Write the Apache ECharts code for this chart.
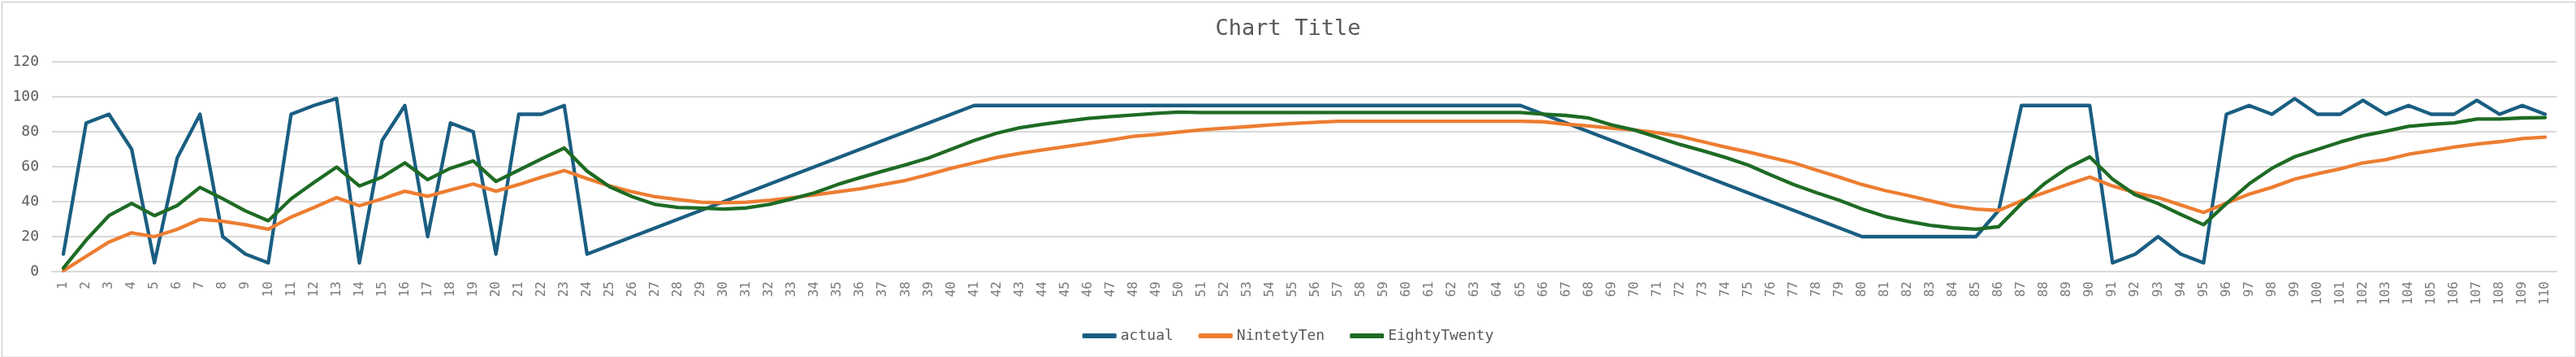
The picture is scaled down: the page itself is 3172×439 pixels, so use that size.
<!DOCTYPE html>
<html>
<head>
<meta charset="utf-8">
<script src="https://cdn.jsdelivr.net/npm/echarts@6/dist/echarts.min.js"></script>
<style>
  html, body { margin: 0; padding: 0; background: #ffffff; }
  #chart { width: 3172px; height: 439px; }
</style>
</head>
<body>
<div id="chart"></div>
<script>
var categories = ["1","2","3","4","5","6","7","8","9","10","11","12","13","14","15","16","17","18","19","20",
  "21","22","23","24","25","26","27","28","29","30","31","32","33","34","35","36","37","38","39","40",
  "41","42","43","44","45","46","47","48","49","50","51","52","53","54","55","56","57","58","59","60",
  "61","62","63","64","65","66","67","68","69","70","71","72","73","74","75","76","77","78","79","80",
  "81","82","83","84","85","86","87","88","89","90","91","92","93","94","95","96","97","98","99","100",
  "101","102","103","104","105","106","107","108","109","110"];

var actual = [10,85,90,70,5,65,90,20,10,5,
  90,95,99,5,75,95,20,85,80,10,
  90,90,95,10,15,20,25,30,35,40,
  45,50,55,60,65,70,75,80,85,90,
  95,95,95,95,95,95,95,95,95,95,
  95,95,95,95,95,95,95,95,95,95,
  95,95,95,95,95,90,85,80,75,70,
  65,60,55,50,45,40,35,30,25,20,
  20,20,20,20,20,35,95,95,95,95,
  5,10,20,10,5,90,95,90,99,90,
  90,98,90,95,90,90,98,90,95,90];

var nintetyTen = [0.5,8.7,16.9,22.2,20,24.2,29.9,28.8,26.8,24.2,
  31.2,36.6,42.3,37.7,41.6,46,43.1,46.7,50.1,46,
  49.8,54,57.8,53.2,49,45.6,42.8,41.2,39.7,39.4,
  39.7,40.8,42.3,43.9,45.6,47.4,49.8,52.2,55.5,59.1,
  62.2,65.3,67.6,69.6,71.5,73.3,75.3,77.4,78.4,79.8,
  81.1,82,82.9,83.9,84.7,85.4,86,86,86,86,
  86,86,86,86,86,85.7,84.3,83.3,82,81,
  79.5,77.4,74.3,71.2,68.4,65.3,62.2,58,54,49.8,
  46.4,43.6,40.5,37.5,35.8,35,40.5,45.1,49.8,54.1,
  49,45.1,42.3,38.1,33.8,39.2,44.3,48.2,52.9,56,
  58.8,62.2,64,67.1,69.1,71.2,73,74.3,76.1,76.9];

var eightyTwenty = [2,18,32,39,32,37.8,48.2,41.7,34.7,29.1,
  41.6,50.9,59.8,49,54.1,62.2,52.6,59.1,63.3,51.6,
  58,64.5,70.7,57.5,48.5,42.8,38.4,36.7,36.3,35.8,
  36.4,38.4,41.6,45.1,49.8,53.8,57.5,61.1,65,70,
  75,79.2,82.3,84.2,86,87.6,88.7,89.6,90.5,91.2,
  91,91,91,91,91,91,91,91,91,91,
  91,91,91,91,91,90.1,89.3,87.8,83.9,81,
  76.9,72.7,69.1,65.3,60.9,55.2,49.8,45.1,40.8,35.8,
  31.6,28.8,26.5,25,24.2,25.7,38.9,50.2,59.1,65.6,
  52.9,43.9,38.9,32.7,26.8,38.9,50.2,59.1,65.7,69.9,
  74.1,77.7,80.3,83.1,84.2,85.1,87.3,87.3,87.9,88.1];

var seriesNames = ["actual", "NintetyTen", "EightyTwenty"];
var yTicks = { min: 0, max: 120, interval: 20 };

var FONT = "DejaVu Sans Mono";
var chart = echarts.init(document.getElementById("chart"), null, { renderer: "canvas" });

function lineSeries(name, data, color) {
  return {
    name: name,
    type: "line",
    data: data,
    symbol: "none",
    showSymbol: false,
    smooth: false,
    lineStyle: { color: color, width: 4.3, cap: "round", join: "round" },
    itemStyle: { color: color }
  };
}

chart.setOption({
  animation: false,
  backgroundColor: "#ffffff",
  title: {
    text: "Chart Title",
    left: "center",
    top: 17,
    textStyle: { fontFamily: FONT, fontSize: 27, fontWeight: "normal", color: "#595959" }
  },
  legend: {
    data: seriesNames,
    left: "center",
    top: 398,
    icon: "roundRect",
    itemWidth: 42,
    itemHeight: 6,
    itemGap: 31,
    itemStyle: { borderWidth: 0 },
    textStyle: { fontFamily: FONT, fontSize: 18, color: "#595959", lineHeight: 20 }
  },
  grid: { left: 64, right: 24, top: 76, bottom: 105, containLabel: false },
  xAxis: {
    type: "category",
    data: categories,
    boundaryGap: true,
    axisLine: { show: true, lineStyle: { color: "#d9d9d9", width: 2 } },
    axisTick: { show: false },
    axisLabel: {
      interval: 0,
      rotate: 90,
      margin: 12,
      fontFamily: FONT,
      fontSize: 16,
      color: "#7a7a7a"
    },
    splitLine: { show: false }
  },
  yAxis: {
    type: "value",
    min: yTicks.min,
    max: yTicks.max,
    interval: yTicks.interval,
    axisLine: { show: false },
    axisTick: { show: false },
    axisLabel: { margin: 16, fontFamily: FONT, fontSize: 18, color: "#595959" },
    splitLine: { show: true, lineStyle: { color: "#d9d9d9", width: 2 } }
  },
  graphic: [{
    type: "rect",
    left: 0,
    top: 0,
    shape: { x: 0, y: 0, width: 3169, height: 437 },
    style: { fill: "none", stroke: "#d9d9d9", lineWidth: 2 },
    silent: true
  }],
  series: [
    lineSeries(seriesNames[0], actual, "#1A5E82"),
    lineSeries(seriesNames[1], nintetyTen, "#ED7D31"),
    lineSeries(seriesNames[2], eightyTwenty, "#1E6B24")
  ]
});
</script>
</body>
</html>
